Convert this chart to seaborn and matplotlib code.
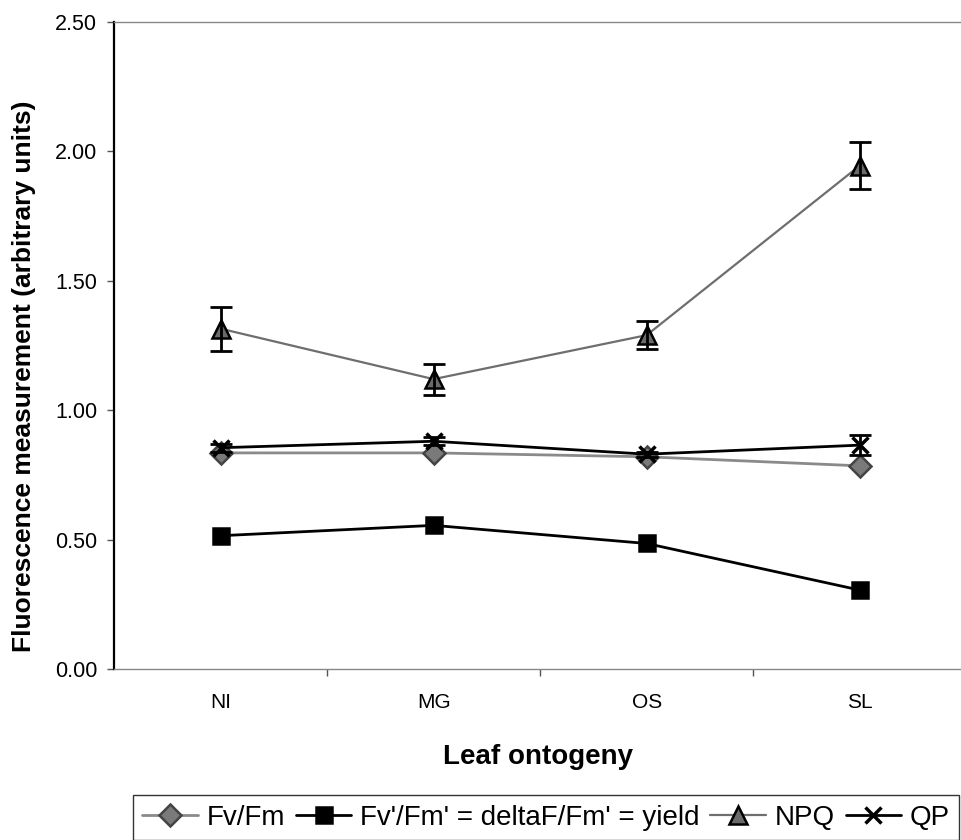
"""
plot.py

Chlorophyll fluorescence parameters across leaf ontogeny.
"""

import numpy as np
import pandas as pd
import matplotlib
matplotlib.use('Agg')
import matplotlib.pyplot as plt
import seaborn as sns

#=======================================================================
#  Data
#=======================================================================

stages = ['NI', 'MG', 'OS', 'SL']

fvfm      = [0.835, 0.835, 0.82, 0.785]
yield_    = [0.515, 0.555, 0.485, 0.305]
npq       = [1.315, 1.12, 1.29, 1.945]
qp        = [0.855, 0.88, 0.83, 0.865]

npq_err   = [0.085, 0.06, 0.055, 0.09]
qp_err    = [0.015, 0.015, 0.01, 0.04]

series_names = ['Fv/Fm', "Fv'/Fm' = deltaF/Fm' = yield", 'NPQ', 'QP']

yticks = [0.0, 0.5, 1.0, 1.5, 2.0, 2.5]

#=======================================================================
#  Build a long table for seaborn
#=======================================================================

pos = np.arange(len(stages))

data = pd.concat([
    pd.DataFrame({'x': pos, 'value': vals, 'series': name})
    for name, vals in zip(series_names, [fvfm, yield_, npq, qp])
])

styles = {
    'Fv/Fm': dict(color='#8a8a8a', marker='D', ms=11, mfc='#7a7a7a',
                  mec='#444444', lw=2.0),
    "Fv'/Fm' = deltaF/Fm' = yield": dict(color='black', marker='s', ms=12,
                  mfc='black', mec='black', lw=2.0),
    'NPQ': dict(color='#6e6e6e', marker='^', ms=13, mfc='#6a6a6a',
                mec='black', lw=1.6),
    'QP': dict(color='black', marker='x', ms=11, mfc='black',
               mec='black', lw=2.0),
}

#=======================================================================
#  Draw the plot
#=======================================================================

sns.set_style('white')
plt.rcParams['font.family'] = ['Liberation Sans', 'DejaVu Sans']
plt.rcParams['text.color'] = 'black'
plt.rcParams['axes.labelcolor'] = 'black'
plt.rcParams['xtick.labelcolor'] = 'black'
plt.rcParams['ytick.labelcolor'] = 'black'

fig = plt.figure(figsize=(9.62, 8.4), dpi=100)
ax = fig.add_axes([114/962, 1 - 669/840, 848/962, 647/840])

for name in series_names:
    st = styles[name]
    sub = data[data['series'] == name]
    sns.lineplot(data=sub, x='x', y='value', ax=ax, label=name,
                 color=st['color'], linewidth=st['lw'], marker=st['marker'],
                 markersize=st['ms'], markerfacecolor=st['mfc'],
                 markeredgecolor=st['mec'],
                 markeredgewidth=1.8 if st['marker'] != 'x' else 2.5,
                 errorbar=None, zorder=3)

ax.errorbar(pos, npq, yerr=npq_err, fmt='none', ecolor='black',
            elinewidth=2, capsize=8, capthick=2, zorder=4)
ax.errorbar(pos, qp, yerr=qp_err, fmt='none', ecolor='black',
            elinewidth=2, capsize=8, capthick=2, zorder=4)

#
#  Axes and ticks
#

ax.set_xlim(-0.5, 3.48)
ax.set_ylim(0, 2.5)

ax.set_yticks(yticks)
ax.set_yticklabels([f'{v:.2f}' for v in yticks])
ax.tick_params(axis='y', left=True, length=5, width=1, pad=7,
               labelsize=15.5, direction='out', color='#555555',
               labelcolor='black')

ax.set_xticks(pos)
ax.set_xticklabels(stages)
ax.set_xticks([0.5, 1.5, 2.5], minor=True)
ax.tick_params(axis='x', which='major', length=0, pad=17, labelsize=15,
               labelcolor='black')
ax.tick_params(axis='x', which='minor', bottom=True, length=5, width=1,
               direction='out', color='#555555')

for side in ['top', 'bottom', 'right']:
    ax.spines[side].set_color('#888888')
    ax.spines[side].set_linewidth(1)
ax.spines['left'].set_color('black')
ax.spines['left'].set_linewidth(1.6)

ax.set_xlabel('Leaf ontogeny', fontsize=20, fontweight='bold',
              labelpad=23, color='black')
ax.set_ylabel('Fluorescence measurement (arbitrary units)', fontsize=19,
              fontweight='bold', color='black')
ax.yaxis.set_label_coords(-0.092, 0.453)

#
#  Legend along the bottom
#

leg = ax.legend(loc='upper center', bbox_to_anchor=(546/962, 1 - 795/840),
                bbox_transform=fig.transFigure, ncol=4, fontsize=20,
                frameon=True, fancybox=False, edgecolor='black',
                handlelength=2.0, handletextpad=0.3, columnspacing=0.4,
                borderpad=0.35, borderaxespad=0)
for t in leg.get_texts():
    t.set_color('black')

fig.savefig('out.png', dpi=100)
